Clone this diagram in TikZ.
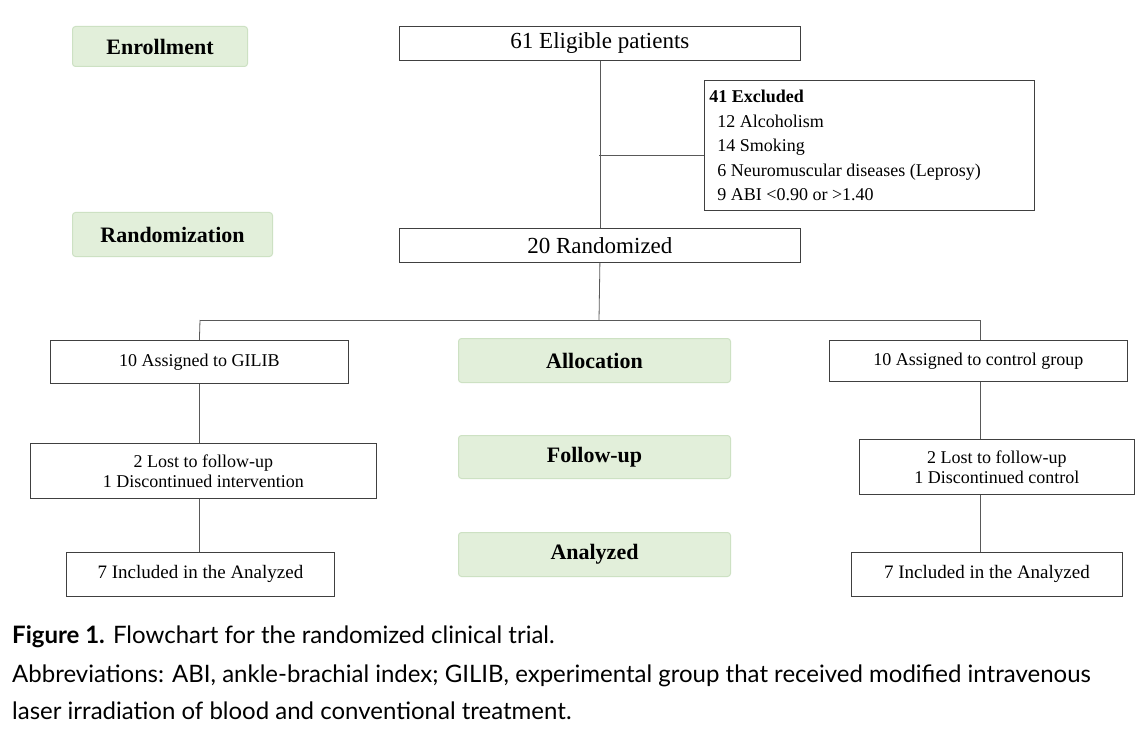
\documentclass[tikz,border=0pt]{standalone}
\usepackage{fontspec}
\setmainfont{Liberation Serif}
\newfontfamily\capfont{Lato}
\begin{document}
\begin{tikzpicture}[x=1pt,y=-1pt,
  wbox/.style={draw=black!75,line width=0.8pt,fill=white,inner sep=0pt,anchor=north west},
  gbox/.style={rounded corners=3pt,line width=1pt,inner sep=0pt,anchor=north west,font=\bfseries\fontsize{22}{24}\selectfont},
  ln/.style={draw=black!65,line width=0.8pt}]
\useasboundingbox (0,0) rectangle (1148,730);
\fill[white] (0,0) rectangle (1148,730);
\tikzset{gbox/.append style={fill={rgb,255:red,226;green,239;blue,218},draw={rgb,255:red,205;green,225;blue,195}}}
\node[gbox,minimum width=175pt,minimum height=40pt] (enr) at (72,26) {Enrollment};
\node[gbox,minimum width=200pt,minimum height=44pt] (rnd) at (72,212) {Randomization};
\node[gbox,minimum width=272pt,minimum height=44pt] (alc) at (458,338) {Allocation};
\node[gbox,minimum width=272pt,minimum height=43pt] (fol) at (458,435) {Follow-up};
\node[gbox,minimum width=272pt,minimum height=44pt] (ana) at (458,532) {Analyzed};

\node[wbox,minimum width=401pt,minimum height=34pt,font=\fontsize{23}{25}\selectfont] (elig) at (399,26) {61 Eligible patients};
\node[wbox,minimum width=330pt,minimum height=130pt,align=left,font=\fontsize{18}{24.5}\selectfont] (exc) at (704,80) {\hspace*{4pt}\parbox{324pt}{\textbf{41 Excluded}\\\hspace*{8pt}12 Alcoholism\\\hspace*{8pt}14 Smoking\\\hspace*{8pt}6 Neuromuscular diseases (Leprosy)\\\hspace*{8pt}9 ABI <0.90 or >1.40}};
\node[wbox,minimum width=401pt,minimum height=34pt,font=\fontsize{23}{25}\selectfont] (rz) at (399,228) {20 Randomized};
\node[wbox,minimum width=298pt,minimum height=43pt,font=\fontsize{18}{20}\selectfont] (gl) at (50,340) {10 Assigned to GILIB};
\node[wbox,minimum width=298pt,minimum height=41pt,font=\fontsize{18}{20}\selectfont] (cg) at (829,340) {10 Assigned to control group};
\node[wbox,minimum width=346pt,minimum height=55pt,align=center,font=\fontsize{18}{20}\selectfont] (ll) at (30,443) {2 Lost to follow-up\\1 Discontinued intervention};
\node[wbox,minimum width=275pt,minimum height=55pt,align=center,font=\fontsize{18}{20}\selectfont] (lr) at (859,439) {2 Lost to follow-up\\1 Discontinued control};
\node[wbox,minimum width=268pt,minimum height=44pt,font=\fontsize{19}{21}\selectfont] (al) at (66,552) {7 Included in the Analyzed};
\node[wbox,minimum width=271pt,minimum height=44pt,font=\fontsize{19}{21}\selectfont] (ar) at (851,552) {7 Included in the Analyzed};

\coordinate (br) at (599,155);
\coordinate (sp) at (599,320);
\coordinate (sl) at (200,320);
\coordinate (sr) at (980,320);
\draw[ln] (elig.south) -- (rz.north);
\draw[ln] (br) -- (br -| exc.west);
\draw[ln] (rz.south) -- (sp);
\draw[ln] (sl) -- (sr);
\draw[ln] (sl) -- (gl.north);
\draw[ln] (sr) -- (sr |- cg.north);
\draw[ln] (gl.south) -- (gl.south |- ll.north);
\draw[ln] (ll.south -| gl.south) -- (gl.south |- al.north);
\draw[ln] (sr |- cg.south) -- (sr |- lr.north);
\draw[ln] (sr |- lr.south) -- (sr |- ar.north);

\node[anchor=west,inner sep=0pt,font=\capfont\fontsize{24}{26}\selectfont] (c1) at (12,637) {\textbf{Figure 1.} Flowchart for the randomized clinical trial.};
\node[anchor=west,inner sep=0pt,font=\capfont\fontsize{24}{26}\selectfont] (c2) at (12,676) {Abbreviations: ABI, ankle-brachial index; GILIB, experimental group that received modified intravenous};
\node[anchor=west,inner sep=0pt,font=\capfont\fontsize{24}{26}\selectfont] (c3) at (12,711) {laser irradiation of blood and conventional treatment.};
\end{tikzpicture}
\end{document}
